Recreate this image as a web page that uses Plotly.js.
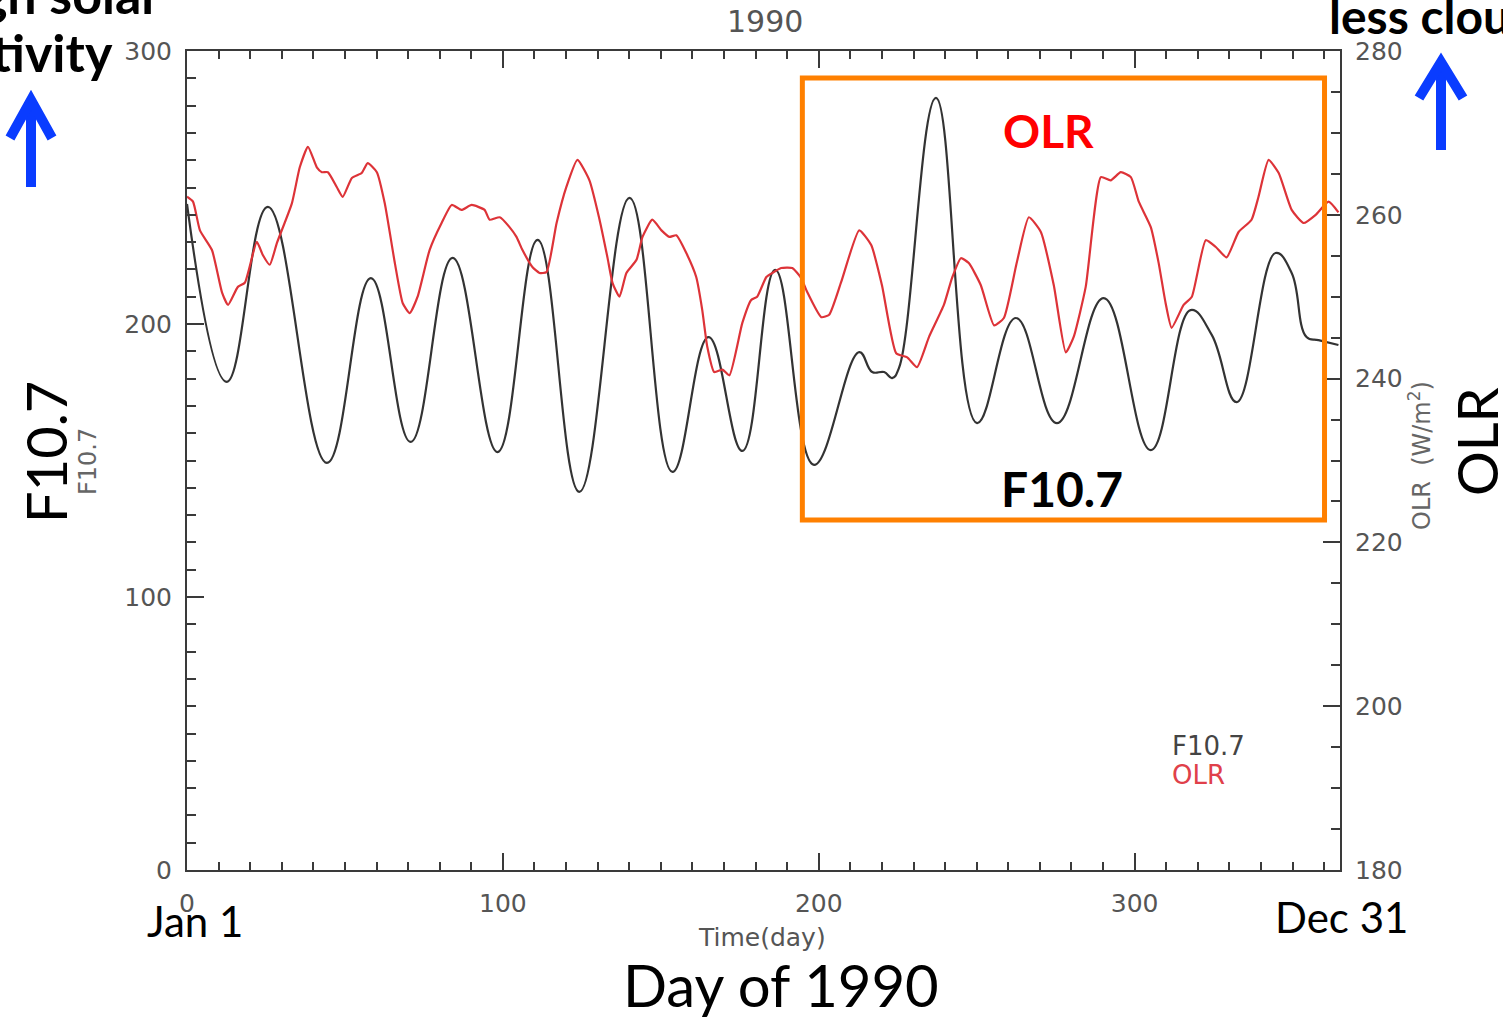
<!DOCTYPE html>
<html>
<head>
<meta charset="utf-8">
<script src="https://cdn.plot.ly/plotly-3.0.1.min.js"></script>
<style>html,body{margin:0;padding:0;background:#fff;}#chart{width:1503px;height:1018px;}</style>
</head>
<body>
<div id="chart"></div>
<script>
// F10.7 solar flux (left axis)
const f107Day = [0, 12.6, 25.6, 44.3, 58.2, 70.8, 84.1, 98.3, 111.0, 124.2, 140.1, 153.7, 165.1, 175.8, 186.2, 198.5,
  212.8, 216.9, 220.7, 223.2, 225.4, 237.1, 250.1, 262.4, 275.4, 290.2, 305.1, 317.7, 324.4, 332.3, 344.6, 349.7,
  354.4, 358.2, 364.5];
const f107Val = [244, 178.8, 242.9, 149.1, 216.8, 156.8, 224.2, 153.1, 230.8, 138.5, 246.2, 145.8, 195.2, 153.5, 219.8, 148.4,
  189.7, 182.4, 182.4, 180.2, 183.9, 282.8, 163.7, 202.2, 163.7, 209.5, 153.8, 205.1, 196.0, 171.4, 226.0, 218.7,
  195.2, 194.1, 192.3];

// OLR (W/m^2, right axis)
const olrDay = [0, 1.9, 4.1, 7.9, 11.1, 13.0, 16.1, 18.3, 22.1, 24.0, 26.2, 28.5, 33.2, 35.7, 38.3, 41.1, 42.7, 44.6,
  47.4, 49.3, 52.2, 55.3, 57.2, 60.1, 62.6, 65.8, 68.3, 70.5, 73.0, 76.8, 80.6, 83.8, 86.9, 90.1, 94.2, 95.8, 99.0,
  102.1, 104.3, 106.2, 109.4, 111.6, 113.8, 117.0, 120.1, 123.6, 127.4, 130.6, 133.1, 134.7, 136.9, 139.1, 142.3,
  144.2, 147.3, 150.2, 152.7, 154.9, 158.1, 161.2, 163.1, 164.7, 166.9, 169.5, 171.7, 175.8, 178.6, 180.5, 183.4,
  185.3, 188.1, 191.6, 194.4, 196.3, 200.8, 203.3, 207.1, 212.8, 216.6, 220.0, 224.5, 228.0, 231.1, 234.9, 239.6,
  242.2, 245.0, 247.5, 251.3, 255.5, 258.6, 262.7, 266.5, 270.3, 274.4, 278.2, 280.7, 284.5, 289.3, 292.4, 295.6,
  298.8, 301.3, 305.1, 307.6, 309.8, 311.7, 315.5, 318.1, 322.5, 325.6, 329.1, 332.9, 337.0, 339.2, 342.4, 345.6,
  349.7, 353.5, 357.3, 361.4, 364.5];
const olrVal = [262.2, 261.6, 258.1, 255.7, 250.5, 249.0, 251.2, 251.7, 256.7, 255.1, 253.9, 256.6, 261.4, 265.8, 268.3, 265.8, 265.2, 265.2,
  263.4, 262.2, 264.5, 265.1, 266.3, 265.2, 261.4, 254.1, 249.2, 248.0, 250.0, 255.7, 259.0, 261.2, 260.6, 261.2, 260.6, 259.4, 259.7,
  258.5, 257.3, 255.7, 253.6, 252.9, 253.0, 259.0, 263.4, 266.7, 264.2, 259.4, 254.8, 251.7, 250.0, 252.9, 254.5,
  257.3, 259.4, 258.1, 257.3, 257.5, 255.3, 252.4, 248.4, 243.9, 240.8, 241.1, 240.4, 246.8, 249.6, 250.0, 252.4,
  252.9, 253.5, 253.5, 252.3, 250.6, 247.5, 247.8, 251.8, 258.1, 256.3, 251.4, 243.1, 242.6, 241.4, 245.1, 249.0,
  252.3, 254.7, 254.1, 251.4, 246.5, 247.4, 254.2, 259.7, 257.9, 251.4, 243.2, 245.1, 251.2, 264.6, 264.2, 265.2,
  264.6, 261.6, 258.5, 254.1, 249.2, 246.2, 249.0, 250.0, 256.9, 256.1, 254.8, 257.9, 259.4, 262.2, 266.7, 265.1,
  260.6, 259.0, 260.0, 261.6, 260.3];

const xTicks = [0, 100, 200, 300];
const yLeftTicks = [0, 100, 200, 300];
const yRightTicks = [180, 200, 220, 240, 260, 280];

const idlFamily = '"DejaVu Sans", Lato, sans-serif';
const tickFont = {family: idlFamily, size: 25, color: '#555'};
const bigFont = 'Lato, "Open Sans", sans-serif';
const axisCol = '#3a3a3a';

const traces = [
  {x: f107Day, y: f107Val, type: 'scatter', mode: 'lines', name: 'F10.7', yaxis: 'y',
   line: {color: '#333333', width: 2.2, shape: 'spline', smoothing: 1.2}},
  {x: olrDay, y: olrVal, type: 'scatter', mode: 'lines', name: 'OLR', yaxis: 'y2',
   line: {color: '#dd3338', width: 2.2, shape: 'spline', smoothing: 0.5}}
];

// paper coordinate helpers for the fixed plot box (l=187, t=51, w=1153, h=819)
const px = X => (X - 187) / 1153;
const py = Y => (870 - Y) / 819;

const ann = (text, X, Y, opts) => Object.assign({
  text: text, xref: 'paper', yref: 'paper', x: px(X), y: py(Y), showarrow: false,
  xanchor: 'center', yanchor: 'middle'
}, opts || {});

const layout = {
  width: 1503, height: 1018, autosize: false,
  margin: {l: 187, r: 163, t: 51, b: 148, pad: 0},
  paper_bgcolor: '#ffffff', plot_bgcolor: '#ffffff',
  showlegend: false,
  xaxis: {
    range: [0, 365], tickvals: xTicks, ticks: 'inside', ticklen: 17, tickwidth: 2, tickcolor: axisCol,
    showline: true, linecolor: axisCol, linewidth: 2, mirror: 'ticks', showgrid: false, zeroline: false,
    tickfont: tickFont, ticklabelstandoff: 10,
    minor: {dtick: 10, tick0: 0, ticks: 'inside', ticklen: 8, tickwidth: 2, tickcolor: axisCol, showgrid: false}
  },
  yaxis: {
    range: [0, 300], tickvals: yLeftTicks, ticks: 'inside', ticklen: 17, tickwidth: 2, tickcolor: axisCol,
    showline: true, linecolor: axisCol, linewidth: 2, showgrid: false, zeroline: false,
    tickfont: tickFont, ticklabelstandoff: 8,
    minor: {dtick: 10, tick0: 0, ticks: 'inside', ticklen: 9, tickwidth: 2, tickcolor: axisCol, showgrid: false}
  },
  yaxis2: {
    range: [180, 280], tickvals: yRightTicks, overlaying: 'y', side: 'right', ticks: 'inside', ticklen: 17,
    tickwidth: 2, tickcolor: axisCol, showline: true, linecolor: axisCol, linewidth: 2, showgrid: false,
    zeroline: false, tickfont: tickFont, ticklabelstandoff: 8,
    minor: {dtick: 5, tick0: 180, ticks: 'inside', ticklen: 9, tickwidth: 2, tickcolor: axisCol, showgrid: false}
  },
  shapes: [
    {type: 'rect', xref: 'x', yref: 'y', x0: 194.8, x1: 360.1, y0: 128.2, y1: 290.1,
     line: {color: '#ff8000', width: 5}, fillcolor: 'rgba(0,0,0,0)', layer: 'above'},
    // left blue arrow
    {type: 'path', xref: 'paper', yref: 'paper', layer: 'above',
     path: `M${px(31)},${py(187)} L${px(31)},${py(100)}`, line: {color: '#0a3cff', width: 10}},
    {type: 'path', xref: 'paper', yref: 'paper', layer: 'above',
     path: `M${px(10)},${py(138)} L${px(31)},${py(100)} L${px(52)},${py(138)}`, line: {color: '#0a3cff', width: 10}},
    // right blue arrow
    {type: 'path', xref: 'paper', yref: 'paper', layer: 'above',
     path: `M${px(1441)},${py(150)} L${px(1441)},${py(62)}`, line: {color: '#0a3cff', width: 10}},
    {type: 'path', xref: 'paper', yref: 'paper', layer: 'above',
     path: `M${px(1419)},${py(98)} L${px(1441)},${py(62)} L${px(1463)},${py(98)}`, line: {color: '#0a3cff', width: 10}}
  ],
  annotations: [
    ann('1990', 765, 22, {font: {family: idlFamily, size: 30, color: '#555'}}),
    ann('Time(day)', 762, 937, {font: {family: idlFamily, size: 25, color: '#555'}}),
    ann('Day of 1990', 781, 984, {font: {family: bigFont, size: 58, color: '#000'}}),
    ann('Jan 1', 195, 921, {font: {family: bigFont, size: 42, color: '#000'}}),
    ann('Dec 31', 1341, 917, {font: {family: bigFont, size: 42, color: '#000'}}),
    ann('F10.7', 45, 452, {textangle: -90, font: {family: bigFont, size: 56, color: '#000'}}),
    ann('F10.7', 88, 462, {textangle: -90, font: {family: idlFamily, size: 24, color: '#666'}}),
    ann('OLR', 1476, 442, {textangle: -90, font: {family: bigFont, size: 56, color: '#000'}}),
    ann('OLR\u00a0\u00a0(W/m<sup>2</sup>)', 1420, 456, {textangle: -90, font: {family: idlFamily, size: 24, color: '#666'}}),
    ann('<b>High solar</b>', 163, -6, {xanchor: 'right', font: {family: bigFont, size: 52, color: '#000'}}),
    ann('<b>activity</b>', 115, 52, {xanchor: 'right', font: {family: bigFont, size: 52, color: '#000'}}),
    ann('<b>less cloud</b>', 1327, 16, {xanchor: 'left', font: {family: bigFont, size: 48, color: '#000'}}),
    ann('<b>OLR</b>', 1048, 130, {font: {family: bigFont, size: 46, color: '#ff0000'}}),
    ann('<b>F10.7</b>', 1062, 488, {font: {family: bigFont, size: 48, color: '#000'}}),
    ann('F10.7', 1170, 746, {xanchor: 'left', font: {family: idlFamily, size: 26, color: '#444'}}),
    ann('OLR', 1170, 775, {xanchor: 'left', font: {family: idlFamily, size: 26, color: '#e0404a'}})
  ]
};

Plotly.newPlot('chart', traces, layout, {displayModeBar: false, staticPlot: true});
</script>
</body>
</html>
